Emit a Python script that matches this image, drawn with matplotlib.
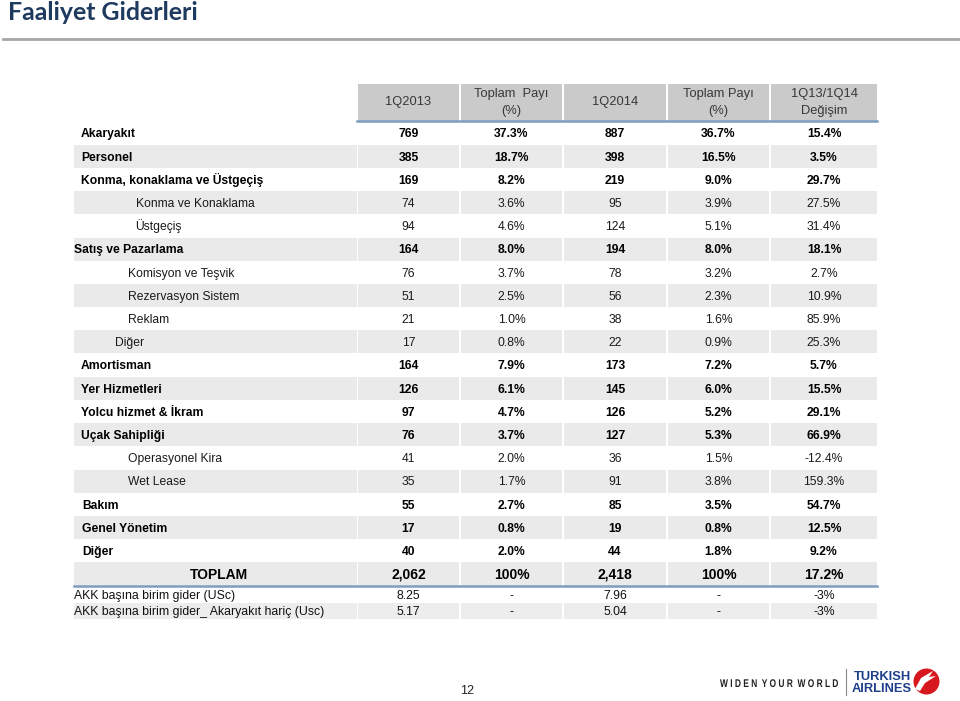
import matplotlib
matplotlib.use('Agg')
import matplotlib.pyplot as plt
from matplotlib.patches import Rectangle, Circle, Polygon, PathPatch
from matplotlib.textpath import TextPath
from matplotlib.font_manager import FontProperties
from matplotlib.transforms import Affine2D

plt.rcParams['font.family'] = ['Liberation Sans', 'DejaVu Sans']

# tablo verileri
labels = ['Akaryakıt', 'Personel', 'Konma, konaklama ve Üstgeçiş', 'Konma ve Konaklama', 'Üstgeçiş',
          'Satış ve Pazarlama', 'Komisyon ve Teşvik', 'Rezervasyon Sistem', 'Reklam', 'Diğer',
          'Amortisman', 'Yer Hizmetleri', 'Yolcu hizmet & İkram', 'Uçak Sahipliği', 'Operasyonel Kira',
          'Wet Lease', 'Bakım', 'Genel Yönetim', 'Diğer', 'TOPLAM']
q2013 = [769, 385, 169, 74, 94, 164, 76, 51, 21, 17, 164, 126, 97, 76, 41, 35, 55, 17, 40, 2062]
pay2013 = [37.3, 18.7, 8.2, 3.6, 4.6, 8.0, 3.7, 2.5, 1.0, 0.8, 7.9, 6.1, 4.7, 3.7, 2.0, 1.7, 2.7, 0.8, 2.0, 100]
q2014 = [887, 398, 219, 95, 124, 194, 78, 56, 38, 22, 173, 145, 126, 127, 36, 91, 85, 19, 44, 2418]
pay2014 = [36.7, 16.5, 9.0, 3.9, 5.1, 8.0, 3.2, 2.3, 1.6, 0.9, 7.2, 6.0, 5.2, 5.3, 1.5, 3.8, 3.5, 0.8, 1.8, 100]
degisim = [15.4, 3.5, 29.7, 27.5, 31.4, 18.1, 2.7, 10.9, 85.9, 25.3, 5.7, 15.5, 29.1, 66.9, -12.4, 159.3,
           54.7, 12.5, 9.2, 17.2]
headers = ['1Q2013', 'Toplam  Payı\n(%)', '1Q2014', 'Toplam Payı\n(%)', '1Q13/1Q14\nDeğişim']

birim_labels = ['AKK başına birim gider (USc)', 'AKK başına birim gider_ Akaryakıt hariç (Usc)']
birim_2013 = [8.25, 5.17]
birim_2014 = [7.96, 5.04]
birim_degisim = [-3, -3]

# satır stilleri (girinti, kalın mı)
indent = [81, 81, 81, 136, 135, 74, 128, 128, 128, 115, 81, 81, 81, 81, 128, 128, 82, 82, 82, None]
bold = [True, True, True, False, False, True, False, False, False, False,
        True, True, True, True, False, False, True, True, True, True]

fig = plt.figure(figsize=(9.6, 7.01), dpi=100)
ax = fig.add_axes([0, 0, 1, 1])
ax.set_xlim(0, 960)
ax.set_ylim(701, 0)
ax.axis('off')


def baseline(yc, fs):
    # yazıyı büyük harf yüksekliğine göre ortala
    return yc + 0.36 * fs * 100 / 72


# başlık
ax.text(8, 20.5, 'Faaliyet Giderleri', fontsize=17.9, fontweight='bold', color='#1F3A5F',
        family=['Lato', 'DejaVu Sans'], va='baseline', ha='left')
ax.plot([3, 960], [38.5, 38.5], color='#A6A6A6', lw=2)

# sütunlar
col_l = [358, 461, 564, 668, 771]
col_r = [459, 562, 666, 769, 877]
col_c = [(a + b) / 2 for a, b in zip(col_l, col_r)]
lab_l, lab_r = 74, 357

# başlık satırı
for i, h in enumerate(headers):
    ax.add_patch(Rectangle((col_l[i], 84), col_r[i] - col_l[i], 37, color='#CACACA', lw=0))
    ax.text(col_c[i], 102.5, h, ha='center', va='center', fontsize=9.3, color='#383838',
            linespacing=1.45)
ax.plot([357, 877], [121, 121], color='#7F9DBE', lw=1.8)

top = 121.5
rh = 23.2
for r in range(len(labels)):
    y0 = top + r * rh
    yc = y0 + rh / 2
    if r % 2 == 1:
        ax.add_patch(Rectangle((lab_l, y0), lab_r - lab_l, rh, color='#EAEAEA', lw=0))
        for i in range(5):
            ax.add_patch(Rectangle((col_l[i], y0), col_r[i] - col_l[i], rh, color='#EAEAEA', lw=0))
    fw = 'bold' if bold[r] else 'normal'
    tc = '#000000' if bold[r] else '#1A1A1A'
    fs = 8.7
    if labels[r] == 'TOPLAM':
        fs = 10
        ax.text((lab_l + lab_r) / 2 + 3, baseline(yc, fs), labels[r], ha='center', va='baseline',
                fontsize=fs, fontweight='bold', color='#000000')
    else:
        ax.text(indent[r], baseline(yc, fs), labels[r], ha='left', va='baseline', fontsize=fs,
                fontweight=fw, color=tc)
    vals = ['{:,}'.format(q2013[r]),
            '{:.0f}%'.format(pay2013[r]) if pay2013[r] == 100 else '{:.1f}%'.format(pay2013[r]),
            '{:,}'.format(q2014[r]),
            '{:.0f}%'.format(pay2014[r]) if pay2014[r] == 100 else '{:.1f}%'.format(pay2014[r]),
            '{:.1f}%'.format(degisim[r])]
    for i, v in enumerate(vals):
        ax.text(col_c[i], baseline(yc, fs), v, ha='center', va='baseline', fontsize=fs, fontweight=fw,
                color=tc)

ybot = top + len(labels) * rh
ax.plot([74, 877], [ybot, ybot], color='#7F9DBE', lw=1.8)

# birim gider satırları
rh2 = 16.5
for r in range(len(birim_labels)):
    y0 = ybot + 0.5 + r * rh2
    yc = y0 + rh2 / 2
    if r % 2 == 1:
        ax.add_patch(Rectangle((lab_l, y0), lab_r - lab_l, rh2, color='#EDEDED', lw=0))
        for i in range(5):
            ax.add_patch(Rectangle((col_l[i], y0), col_r[i] - col_l[i], rh2, color='#EDEDED', lw=0))
    ax.text(lab_l, baseline(yc, 8.8), birim_labels[r], ha='left', va='baseline', fontsize=8.8,
            color='#111111')
    vals = ['{:.2f}'.format(birim_2013[r]), '-', '{:.2f}'.format(birim_2014[r]), '-',
            '{:d}%'.format(birim_degisim[r])]
    for i, v in enumerate(vals):
        ax.text(col_c[i], baseline(yc, 8.8), v, ha='center', va='baseline', fontsize=8.8,
                color='#111111')

# sayfa numarası
ax.text(467, 691, '12', ha='center', va='center', fontsize=9, color='#222222')

# logo: sıkıştırılmış slogan
tp = TextPath((0, 0), 'W I D E N  Y O U R  W O R L D', size=11.2,
              prop=FontProperties(family='Liberation Sans', weight='bold'))
ext = tp.get_extents()
sx = 118 / ext.width
tr = Affine2D().translate(-ext.x0, 0).scale(sx, -1).translate(720, 687) + ax.transData
ax.add_patch(PathPatch(tp, transform=tr, color='#222222', lw=0))
ax.plot([846, 846], [669, 695], color='#888888', lw=0.8)
ax.text(882, 676.5, 'TURKISH', ha='center', va='center', fontsize=9.3, fontweight='bold', color='#1F3F8A')
ax.text(882, 688.5, 'AIRLINES', ha='center', va='center', fontsize=9.3, fontweight='bold', color='#1F3F8A')
ax.add_patch(Circle((926.5, 681.5), 13, color='#D7191F', lw=0))
ax.add_patch(Polygon([[915, 689], [921, 678], [933, 671], [929, 677], [936, 676], [925, 683],
                      [920, 691]], closed=True, color='white', lw=0))

fig.savefig('out.png', dpi=100)
